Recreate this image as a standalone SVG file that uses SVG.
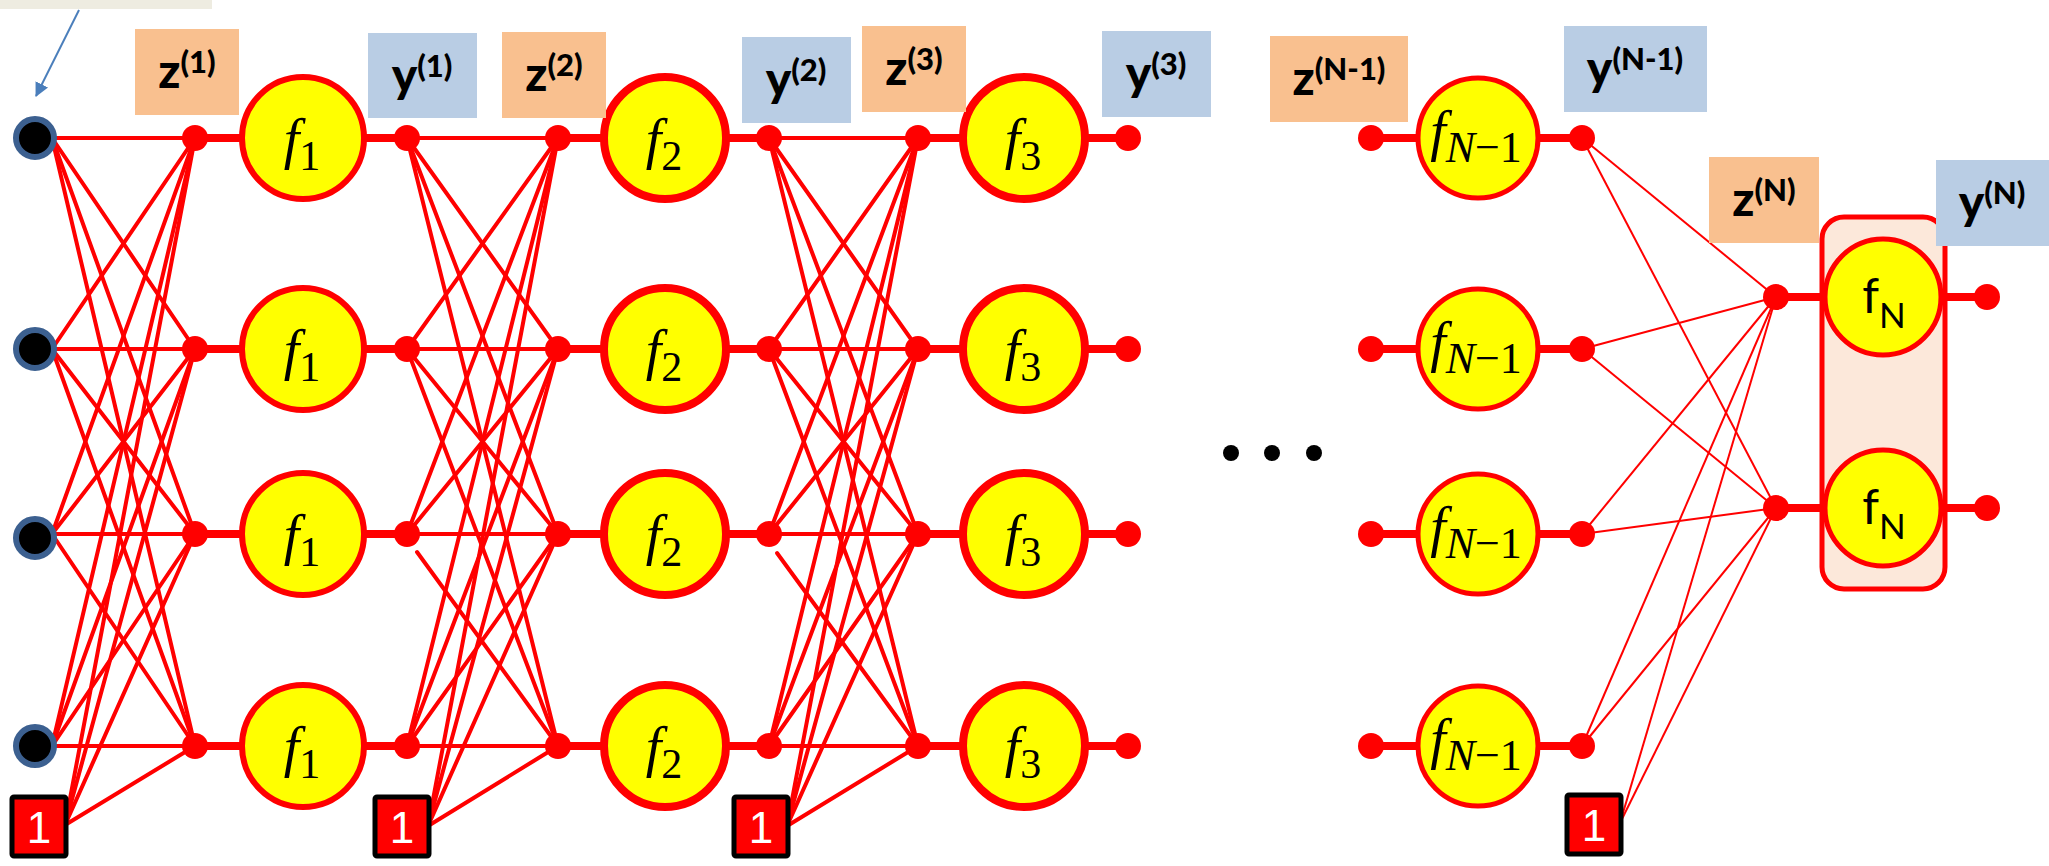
<svg xmlns="http://www.w3.org/2000/svg" width="2049" height="866" viewBox="0 0 2049 866">
<defs>
<style>
.c{stroke:#FF0000;stroke-width:4;stroke-linecap:round;fill:none}
.t{stroke:#FF0000;stroke-width:2;fill:none}
.s{stroke:#FF0000;stroke-width:8;fill:none}
.dot{fill:#FF0000}
.in{fill:#000;stroke:#3C6090;stroke-width:6}
.f1{fill:#FFFF00;stroke:#FF0000;stroke-width:6}
.f2{fill:#FFFF00;stroke:#FF0000;stroke-width:8}
.f4{fill:#FFFF00;stroke:#FF0000;stroke-width:5}
.zb{fill:#F9C08F}
.yb{fill:#B9CDE4}
.lbl{font-family:Lato,"Open Sans","Liberation Sans",sans-serif;font-weight:900;font-size:48px;fill:#000;text-anchor:middle}
.sup{font-size:31px}
.fm{font-family:"Liberation Serif",serif;font-style:italic;font-size:56px;fill:#000;text-anchor:middle}
.sub{font-style:normal;font-size:42px}
.subi{font-style:italic;font-size:44px}
.subn{font-style:normal;font-size:44px}
.fn{font-family:Lato,"Open Sans","Liberation Sans",sans-serif;font-size:48px;fill:#000;text-anchor:middle}
.br{fill:#FF0000;stroke:#000;stroke-width:5}
.bt{fill:#FFFFFF;font-family:"Liberation Sans",Arial,sans-serif;font-size:44px;text-anchor:middle}
</style>
<marker id="ah" markerWidth="14" markerHeight="14" refX="13" refY="7" orient="auto" markerUnits="userSpaceOnUse" viewBox="0 0 14 14">
<path d="M0,0 L14,7 L0,14 z" fill="#4A7EBB"/>
</marker>
</defs>
<rect width="2049" height="866" fill="#FFFFFF"/>
<rect id="note" x="0" y="0" width="212" height="9" fill="#EEECE1"/>
<line x1="79" y1="10" x2="36" y2="96" stroke="#4A7EBB" stroke-width="2" marker-end="url(#ah)"/>

<g id="connectors">
<line class="c" x1="52" y1="138" x2="195" y2="138"/><line class="c" x1="52" y1="138" x2="195" y2="349"/><line class="c" x1="52" y1="138" x2="195" y2="534"/><line class="c" x1="52" y1="138" x2="195" y2="746"/>
<line class="c" x1="52" y1="349" x2="195" y2="138"/><line class="c" x1="52" y1="349" x2="195" y2="349"/><line class="c" x1="52" y1="349" x2="195" y2="534"/><line class="c" x1="52" y1="349" x2="195" y2="746"/>
<line class="c" x1="52" y1="534" x2="195" y2="138"/><line class="c" x1="52" y1="534" x2="195" y2="349"/><line class="c" x1="52" y1="534" x2="195" y2="534"/><line class="c" x1="52" y1="534" x2="195" y2="746"/>
<line class="c" x1="52" y1="746" x2="195" y2="138"/><line class="c" x1="52" y1="746" x2="195" y2="349"/><line class="c" x1="52" y1="746" x2="195" y2="534"/><line class="c" x1="52" y1="746" x2="195" y2="746"/>
<line class="c" x1="65" y1="825" x2="195" y2="138"/><line class="c" x1="65" y1="825" x2="195" y2="349"/><line class="c" x1="65" y1="825" x2="195" y2="534"/><line class="c" x1="65" y1="825" x2="195" y2="746"/>
<line class="c" x1="407" y1="138" x2="558" y2="138"/><line class="c" x1="407" y1="138" x2="558" y2="349"/><line class="c" x1="407" y1="138" x2="558" y2="534"/><line class="c" x1="407" y1="138" x2="558" y2="746"/>
<line class="c" x1="407" y1="349" x2="558" y2="138"/><line class="c" x1="407" y1="349" x2="558" y2="349"/><line class="c" x1="407" y1="349" x2="558" y2="534"/><line class="c" x1="407" y1="349" x2="558" y2="746"/>
<line class="c" x1="407" y1="534" x2="558" y2="138"/><line class="c" x1="407" y1="534" x2="558" y2="349"/><line class="c" x1="407" y1="534" x2="558" y2="534"/><line class="c" x1="417" y1="552" x2="558" y2="746"/>
<line class="c" x1="407" y1="746" x2="558" y2="138"/><line class="c" x1="407" y1="746" x2="558" y2="349"/><line class="c" x1="407" y1="746" x2="558" y2="534"/><line class="c" x1="407" y1="746" x2="558" y2="746"/>
<line class="c" x1="428" y1="826" x2="558" y2="138"/><line class="c" x1="428" y1="826" x2="558" y2="349"/><line class="c" x1="428" y1="826" x2="558" y2="534"/><line class="c" x1="428" y1="826" x2="558" y2="746"/>
<line class="c" x1="769" y1="138" x2="918" y2="138"/><line class="c" x1="769" y1="138" x2="918" y2="349"/><line class="c" x1="769" y1="138" x2="918" y2="534"/><line class="c" x1="769" y1="138" x2="918" y2="746"/>
<line class="c" x1="769" y1="349" x2="918" y2="138"/><line class="c" x1="769" y1="349" x2="918" y2="349"/><line class="c" x1="769" y1="349" x2="918" y2="534"/><line class="c" x1="769" y1="349" x2="918" y2="746"/>
<line class="c" x1="769" y1="534" x2="918" y2="138"/><line class="c" x1="769" y1="534" x2="918" y2="349"/><line class="c" x1="769" y1="534" x2="918" y2="534"/><line class="c" x1="777" y1="553" x2="918" y2="746"/>
<line class="c" x1="769" y1="746" x2="918" y2="138"/><line class="c" x1="769" y1="746" x2="918" y2="349"/><line class="c" x1="769" y1="746" x2="918" y2="534"/><line class="c" x1="769" y1="746" x2="918" y2="746"/>
<line class="c" x1="787" y1="826" x2="918" y2="138"/><line class="c" x1="787" y1="826" x2="918" y2="349"/><line class="c" x1="787" y1="826" x2="918" y2="534"/><line class="c" x1="787" y1="826" x2="918" y2="746"/>
<line class="t" x1="1582" y1="138" x2="1776" y2="297"/><line class="t" x1="1582" y1="138" x2="1776" y2="508"/>
<line class="t" x1="1582" y1="349" x2="1776" y2="297"/><line class="t" x1="1582" y1="349" x2="1776" y2="508"/>
<line class="t" x1="1582" y1="534" x2="1776" y2="297"/><line class="t" x1="1582" y1="534" x2="1776" y2="508"/>
<line class="t" x1="1582" y1="746" x2="1776" y2="297"/><line class="t" x1="1582" y1="746" x2="1776" y2="508"/>
<line class="t" x1="1620" y1="823" x2="1776" y2="297"/><line class="t" x1="1620" y1="823" x2="1776" y2="508"/>
<line class="s" x1="195" y1="138" x2="407" y2="138"/><line class="s" x1="195" y1="349" x2="407" y2="349"/><line class="s" x1="195" y1="534" x2="407" y2="534"/><line class="s" x1="195" y1="746" x2="407" y2="746"/>
<line class="s" x1="558" y1="138" x2="769" y2="138"/><line class="s" x1="558" y1="349" x2="769" y2="349"/><line class="s" x1="558" y1="534" x2="769" y2="534"/><line class="s" x1="558" y1="746" x2="769" y2="746"/>
<line class="s" x1="918" y1="138" x2="1128" y2="138"/><line class="s" x1="918" y1="349" x2="1128" y2="349"/><line class="s" x1="918" y1="534" x2="1128" y2="534"/><line class="s" x1="918" y1="746" x2="1128" y2="746"/>
<line class="s" x1="1371" y1="138" x2="1582" y2="138"/><line class="s" x1="1371" y1="349" x2="1582" y2="349"/><line class="s" x1="1371" y1="534" x2="1582" y2="534"/><line class="s" x1="1371" y1="746" x2="1582" y2="746"/>
</g>

<g id="outputGroup">
<rect x="1822" y="217" width="123" height="372" rx="22" fill="#FCE8DA" stroke="#FF0000" stroke-width="5"/>
<line class="s" x1="1776" y1="297" x2="1987" y2="297"/><line class="s" x1="1776" y1="508" x2="1987" y2="508"/>
</g>

<g id="inputs">
<circle id="in1" class="in" cx="35" cy="138" r="19"/>
<circle id="in2" class="in" cx="35" cy="349" r="19"/>
<circle id="in3" class="in" cx="35" cy="538" r="19"/>
<circle id="in4" class="in" cx="35" cy="746" r="19"/>
</g>

<g id="bias1"><rect class="br" x="12" y="797" width="54" height="59" rx="2"/><text class="bt" x="39" y="843">1</text></g>
<g id="bias2"><rect class="br" x="375" y="797" width="54" height="59" rx="2"/><text class="bt" x="402" y="843">1</text></g>
<g id="bias3"><rect class="br" x="734" y="797" width="54" height="59" rx="2"/><text class="bt" x="761" y="843">1</text></g>
<g id="biasN"><rect class="br" x="1567" y="795" width="54" height="59" rx="2"/><text class="bt" x="1594" y="841">1</text></g>

<g id="dots" class="dot">
<circle cx="195" cy="138" r="13"/><circle cx="195" cy="349" r="13"/><circle cx="195" cy="534" r="13"/><circle cx="195" cy="746" r="13"/>
<circle cx="407" cy="138" r="13"/><circle cx="407" cy="349" r="13"/><circle cx="407" cy="534" r="13"/><circle cx="407" cy="746" r="13"/>
<circle cx="558" cy="138" r="13"/><circle cx="558" cy="349" r="13"/><circle cx="558" cy="534" r="13"/><circle cx="558" cy="746" r="13"/>
<circle cx="769" cy="138" r="13"/><circle cx="769" cy="349" r="13"/><circle cx="769" cy="534" r="13"/><circle cx="769" cy="746" r="13"/>
<circle cx="918" cy="138" r="13"/><circle cx="918" cy="349" r="13"/><circle cx="918" cy="534" r="13"/><circle cx="918" cy="746" r="13"/>
<circle cx="1128" cy="138" r="13"/><circle cx="1128" cy="349" r="13"/><circle cx="1128" cy="534" r="13"/><circle cx="1128" cy="746" r="13"/>
<circle cx="1371" cy="138" r="13"/><circle cx="1371" cy="349" r="13"/><circle cx="1371" cy="534" r="13"/><circle cx="1371" cy="746" r="13"/>
<circle cx="1582" cy="138" r="13"/><circle cx="1582" cy="349" r="13"/><circle cx="1582" cy="534" r="13"/><circle cx="1582" cy="746" r="13"/>
<circle cx="1776" cy="297" r="13"/><circle cx="1776" cy="508" r="13"/>
<circle cx="1987" cy="297" r="13"/><circle cx="1987" cy="508" r="13"/>
</g>

<g id="f1-1"><circle class="f1" cx="303" cy="138" r="61"/><text class="fm" x="302" y="158">f<tspan class="sub" dy="12">1</tspan></text></g>
<g id="f1-2"><circle class="f1" cx="303" cy="349" r="61"/><text class="fm" x="302" y="369">f<tspan class="sub" dy="12">1</tspan></text></g>
<g id="f1-3"><circle class="f1" cx="303" cy="534" r="61"/><text class="fm" x="302" y="554">f<tspan class="sub" dy="12">1</tspan></text></g>
<g id="f1-4"><circle class="f1" cx="303" cy="746" r="61"/><text class="fm" x="302" y="766">f<tspan class="sub" dy="12">1</tspan></text></g>

<g id="f2-1"><circle class="f2" cx="665" cy="138" r="61"/><text class="fm" x="664" y="158">f<tspan class="sub" dy="12">2</tspan></text></g>
<g id="f2-2"><circle class="f2" cx="665" cy="349" r="61"/><text class="fm" x="664" y="369">f<tspan class="sub" dy="12">2</tspan></text></g>
<g id="f2-3"><circle class="f2" cx="665" cy="534" r="61"/><text class="fm" x="664" y="554">f<tspan class="sub" dy="12">2</tspan></text></g>
<g id="f2-4"><circle class="f2" cx="665" cy="746" r="61"/><text class="fm" x="664" y="766">f<tspan class="sub" dy="12">2</tspan></text></g>

<g id="f3-1"><circle class="f2" cx="1024" cy="138" r="61"/><text class="fm" x="1023" y="158">f<tspan class="sub" dy="12">3</tspan></text></g>
<g id="f3-2"><circle class="f2" cx="1024" cy="349" r="61"/><text class="fm" x="1023" y="369">f<tspan class="sub" dy="12">3</tspan></text></g>
<g id="f3-3"><circle class="f2" cx="1024" cy="534" r="61"/><text class="fm" x="1023" y="554">f<tspan class="sub" dy="12">3</tspan></text></g>
<g id="f3-4"><circle class="f2" cx="1024" cy="746" r="61"/><text class="fm" x="1023" y="766">f<tspan class="sub" dy="12">3</tspan></text></g>

<g id="fN1-1"><circle class="f4" cx="1478" cy="138" r="60"/><text class="fm" x="1476" y="150" font-size="54">f<tspan class="subi" dy="12">N</tspan><tspan class="subn">−1</tspan></text></g>
<g id="fN1-2"><circle class="f4" cx="1478" cy="349" r="60"/><text class="fm" x="1476" y="361" font-size="54">f<tspan class="subi" dy="12">N</tspan><tspan class="subn">−1</tspan></text></g>
<g id="fN1-3"><circle class="f4" cx="1478" cy="534" r="60"/><text class="fm" x="1476" y="546" font-size="54">f<tspan class="subi" dy="12">N</tspan><tspan class="subn">−1</tspan></text></g>
<g id="fN1-4"><circle class="f4" cx="1478" cy="746" r="60"/><text class="fm" x="1476" y="758" font-size="54">f<tspan class="subi" dy="12">N</tspan><tspan class="subn">−1</tspan></text></g>

<g id="fN-1"><circle class="f4" cx="1883" cy="297" r="58"/><text class="fn" x="1884" y="313">f<tspan font-size="35" dy="15">N</tspan></text></g>
<g id="fN-2"><circle class="f4" cx="1883" cy="508" r="58"/><text class="fn" x="1884" y="524">f<tspan font-size="35" dy="15">N</tspan></text></g>

<g id="ellipsis" fill="#000"><circle cx="1231" cy="453" r="8"/><circle cx="1272" cy="453" r="8"/><circle cx="1314" cy="453" r="8"/></g>

<g id="label-z1"><rect class="zb" x="135" y="29" width="104" height="86"/><text class="lbl" x="187" y="88">z<tspan class="sup" dy="-15">(1)</tspan></text></g>
<g id="label-y1"><rect class="yb" x="368" y="33" width="109" height="85"/><text class="lbl" x="422" y="92">y<tspan class="sup" dy="-15">(1)</tspan></text></g>
<g id="label-z2"><rect class="zb" x="502" y="32" width="104" height="86"/><text class="lbl" x="554" y="91">z<tspan class="sup" dy="-15">(2)</tspan></text></g>
<g id="label-y2"><rect class="yb" x="742" y="37" width="109" height="86"/><text class="lbl" x="796" y="96">y<tspan class="sup" dy="-15">(2)</tspan></text></g>
<g id="label-z3"><rect class="zb" x="862" y="26" width="104" height="86"/><text class="lbl" x="914" y="85">z<tspan class="sup" dy="-15">(3)</tspan></text></g>
<g id="label-y3"><rect class="yb" x="1102" y="31" width="109" height="86"/><text class="lbl" x="1156" y="90">y<tspan class="sup" dy="-15">(3)</tspan></text></g>
<g id="label-zN1"><rect class="zb" x="1270" y="36" width="138" height="86"/><text class="lbl" x="1339" y="95">z<tspan class="sup" dy="-15">(N-1)</tspan></text></g>
<g id="label-yN1"><rect class="yb" x="1564" y="26" width="143" height="86"/><text class="lbl" x="1635" y="85">y<tspan class="sup" dy="-15">(N-1)</tspan></text></g>
<g id="label-zN"><rect class="zb" x="1709" y="157" width="110" height="86"/><text class="lbl" x="1764" y="216">z<tspan class="sup" dy="-15">(N)</tspan></text></g>
<g id="label-yN"><rect class="yb" x="1936" y="160" width="113" height="86"/><text class="lbl" x="1992" y="219">y<tspan class="sup" dy="-15">(N)</tspan></text></g>
</svg>
